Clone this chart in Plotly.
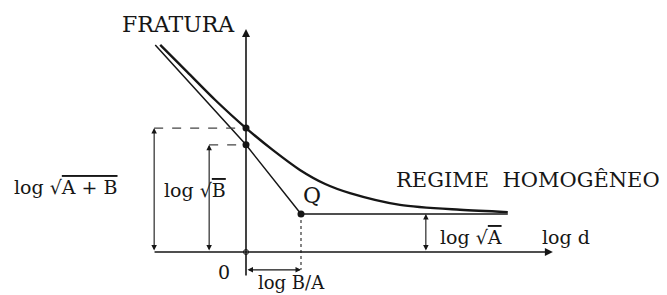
import plotly.graph_objects as go

# ---- data (diagram units: origin at axes crossing) ----
curve_x = [-1.56, -1.07, -0.56, 0.0, 0.49, 0.98, 1.44, 1.89, 2.80, 3.89, 4.76]
curve_y = [5.45, 4.74, 4.00, 3.26, 2.68, 2.16, 1.79, 1.55, 1.24, 1.11, 1.05]
asym_x = [-1.65, 0.0, 1.0, 4.76]
asym_y = [5.45, 2.82, 1.0, 1.0]
log_sqrt_AB = 3.26
log_sqrt_B = 2.82
log_BA = 1.0
log_sqrt_A = 1.0
x_axis_span = [-1.69, 5.58]
y_axis_span = [-0.66, 5.87]

INK = "#161616"
FONT = "DejaVu Serif"

fig = go.Figure()
fig.add_trace(go.Scatter(x=curve_x, y=curve_y, mode="lines",
                         line=dict(color=INK, width=2.4, shape="spline", smoothing=0.8),
                         hoverinfo="skip"))
fig.add_trace(go.Scatter(x=asym_x, y=asym_y, mode="lines",
                         line=dict(color=INK, width=1.5), hoverinfo="skip"))
# dashed guides
fig.add_trace(go.Scatter(x=[-1.67, 0], y=[log_sqrt_AB, log_sqrt_AB], mode="lines",
                         line=dict(color="#444", width=1.3, dash="dash"), hoverinfo="skip"))
fig.add_trace(go.Scatter(x=[-0.67, 0], y=[log_sqrt_B, log_sqrt_B], mode="lines",
                         line=dict(color="#444", width=1.3, dash="dash"), hoverinfo="skip"))
fig.add_trace(go.Scatter(x=[log_BA, log_BA], y=[log_sqrt_A, -0.47], mode="lines",
                         line=dict(color="#444", width=1.3, dash="dot"), hoverinfo="skip"))
# points
fig.add_trace(go.Scatter(x=[0, 0, log_BA], y=[log_sqrt_AB, log_sqrt_B, log_sqrt_A],
                         mode="markers", marker=dict(color=INK, size=7), hoverinfo="skip"))
fig.add_trace(go.Scatter(x=[0], y=[0], mode="markers",
                         marker=dict(color="white", size=5, line=dict(color=INK, width=1)),
                         hoverinfo="skip"))

ann = []
def arrow(x, y, ax, ay, side="end", w=1.5):
    ann.append(dict(x=x, y=y, ax=ax, ay=ay, xref="x", yref="y", axref="x", ayref="y",
                    text="", showarrow=True, arrowhead=2, arrowsize=1, arrowwidth=w,
                    arrowcolor=INK, arrowside=side, standoff=0, startstandoff=0))

# axes
arrow(x_axis_span[1], 0, x_axis_span[0], 0, w=1.6)
arrow(0, y_axis_span[1], 0, y_axis_span[0], w=1.6)
# dimension arrows
arrow(-1.67, log_sqrt_AB, -1.67, 0, side="end+start", w=1.1)
arrow(-0.67, log_sqrt_B, -0.67, 0, side="end+start", w=1.1)
arrow(3.27, log_sqrt_A, 3.27, 0, side="end+start", w=1.1)
arrow(log_BA, -0.47, 0, -0.47, side="end+start", w=1.1)

def label(x, y, t, size=20):
    ann.append(dict(x=x, y=y, xref="x", yref="y", text=t, showarrow=False,
                    font=dict(family=FONT, size=size, color=INK)))

OL = '<span style="text-decoration:overline">'
label(-1.236, 6.0, "FRATURA", 22)
label(5.127, 1.895, "REGIME&nbsp;&nbsp;HOMOGÊNEO", 21)
label(-3.273, 1.71, "log √" + OL + "A + B</span>", 19)
label(-0.927, 1.63, "log √" + OL + "B</span>", 19)
label(1.2, 1.5, "Q", 22)
label(-0.4, -0.526, "0", 19)
label(0.836, -0.81, "log B/A", 18)
label(4.09, 0.395, "log √" + OL + "A</span>", 19)
label(5.818, 0.395, "log d", 19)

# page has an 8px body margin; shift the data window so marks land where they belong
fig.update_layout(
    width=667, height=295, margin=dict(l=0, r=0, t=0, b=0),
    paper_bgcolor="white", plot_bgcolor="white", showlegend=False,
    xaxis=dict(range=[-238/55, 429/55], visible=False, fixedrange=True),
    yaxis=dict(range=[-51/38, 244/38], visible=False, fixedrange=True),
    annotations=ann,
)
fig.write_html("out.html")
